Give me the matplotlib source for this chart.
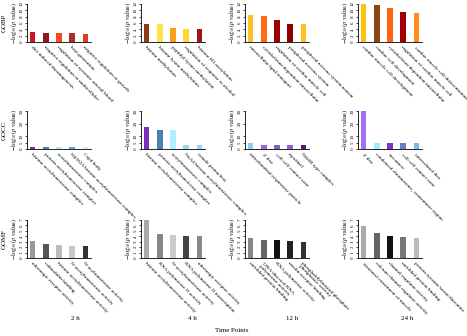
import matplotlib
matplotlib.use("Agg")
import matplotlib.pyplot as plt

plt.rcParams["font.family"] = ["Liberation Serif", "DejaVu Serif"]
plt.rcParams["mathtext.fontset"] = "stix"

TIMES = ["2 h", "4 h", "12 h", "24 h"]
ONTOLOGIES = ["GOBP", "GOCC", "GOMF"]

# GOBP
BP_LABELS = [
    ["diet induced thermogenesis", "negative regulation of multicellular",
     "regulation of systemic arterial blood", "heat generation",
     "negative regulation of growth"],
    ["histone methylation", "histone lysine methylation",
     "peptidyl-lysine methylation", "regulation of response to alcohol",
     "histone H3 acetylation"],
    ["intracellular lipid transport", "cytoskeleton-dependent intracellular",
     "regulation of cardiac muscle cell", "peripheral nervous system",
     "peripheral nervous system neuron"],
    ["cardiac muscle cell development", "cardiac cell development",
     "cytoskeleton-dependent intracellular", "regulation of cardiac muscle cell",
     "cardiac muscle cell differentiation"],
]
BP_VALUES = [
    [3.2, 2.8, 2.8, 2.8, 2.6],
    [5.7, 5.6, 4.3, 4.2, 4.2],
    [8.4, 8.1, 6.8, 5.7, 5.7],
    [12.8, 11.8, 10.7, 9.4, 9.1],
]
BP_COLORS = [
    ["#c8161d", "#8b1a1a", "#f5481f", "#a3302a", "#e03a22"],
    ["#8e3b1c", "#ffe14d", "#ff9e1a", "#ffd633", "#a31515"],
    ["#ffc125", "#ff6a13", "#a00000", "#8b0000", "#ffbf26"],
    ["#ffc20e", "#8b4513", "#ff6410", "#a00000", "#ff8c1a"],
]

# GOCC
CC_LABELS = [
    ["histone acetyltransferase complex", "protein acetyltransferase complex",
     "acetyltransferase complex", "H4/H2A histone acetyltransferase complex",
     "Cajal body"],
    ["histone acetyltransferase complex", "protein acetyltransferase complex",
     "acetyltransferase complex", "NuA4 histone acetyltransferase complex",
     "female pronucleus"],
    ["mitochondrial respiratory particle", "Z disc", "cell-cell contact zone",
     "myofibril", "Ndc80 type complex"],
    ["Z disc", "condensed chromosome, centromeric region", "sarcomere",
     "cell-cell contact zone", "intercalated disc"],
]
CC_VALUES = [
    [1.5, 1.4, 1.4, 1.4, 1.3],
    [17.0, 14.7, 14.7, 3.2, 3.2],
    [5.0, 3.5, 3.2, 3.0, 3.0],
    [31.6, 4.5, 4.5, 4.5, 4.5],
]
CC_COLORS = [
    ["#6a2fb5", "#4f81bd", "#bde8f5", "#6a9fcf", "#d6f0f8"],
    ["#7b2fbe", "#4682b4", "#aeeeff", "#9bd7f0", "#a5d0f0"],
    ["#87cefa", "#9966e0", "#6b6fb5", "#9b59d9", "#4b1f6f"],
    ["#a070f0", "#9aeff5", "#7b35c8", "#6a7ac8", "#7ab8e8"],
]

# GOMF
MF_LABELS = [
    ["adrenergic receptor activity", "calmodulin binding",
     "histone acetyltransferase activity", "N-acetyltransferase activity",
     "N-acyltransferase activity"],
    ["histone acetyltransferase activity", "RNA polymerase II activity",
     "N-acetyltransferase activity", "RNA polymerase II transcription",
     "adrenergic receptor activity"],
    ["unfolded protein binding", "DNA-directed RNA\npolymerase activity",
     "RNA polymerase activity", "insulin receptor binding",
     "phosphatidylinositol phosphate\nphosphatase activity"],
    ["structural constituent of muscle", "calcium channel regulator activity",
     "channel regulator activity", "unfolded protein binding",
     "protein tyrosine/serine/threonine"],
]
MF_VALUES = [
    [3.2, 2.55, 2.35, 2.2, 2.15],
    [7.6, 4.5, 4.2, 4.1, 4.0],
    [3.7, 3.3, 3.3, 3.2, 2.9],
    [5.9, 4.6, 4.0, 3.95, 3.7],
]
MF_COLORS = [
    ["#999999", "#555555", "#bbbbbb", "#c8c8c8", "#333333"],
    ["#aaaaaa", "#888888", "#cccccc", "#444444", "#888888"],
    ["#888888", "#666666", "#111111", "#222222", "#333333"],
    ["#aaaaaa", "#666666", "#111111", "#777777", "#bbbbbb"],
]

ROWS = [
    (BP_LABELS, BP_VALUES, BP_COLORS, 12, [0, 2, 4, 6, 8, 10, 12]),
    (CC_LABELS, CC_VALUES, CC_COLORS, 30, [0, 5, 10, 20, 30]),
    (MF_LABELS, MF_VALUES, MF_COLORS, 7, [0, 1, 2, 3, 4, 5, 6, 7]),
]

W, H = 467, 336
fig = plt.figure(figsize=(W / 100, H / 100), dpi=100)

col_left = [27, 141, 245, 358]
row_top = [4, 111, 220]
ax_w, ax_h = 64, 38

for r, (labels, values, colors, ymax, ticks) in enumerate(ROWS):
    for c in range(4):
        ax = fig.add_axes([col_left[c] / W, 1 - (row_top[r] + ax_h) / H,
                           ax_w / W, ax_h / H])
        x = range(len(values[c]))
        ax.bar(x, values[c], width=0.4, color=colors[c])
        ax.set_xlim(-0.45, 4.45)
        ax.set_ylim(0, ymax)
        ax.set_yticks(ticks)
        ax.set_yticklabels([str(t) for t in ticks], rotation=90,
                           va="center", fontsize=3.6)
        ax.tick_params(axis="y", length=1.5, width=0.5, pad=0.8)
        ax.set_xticks(list(x))
        ax.set_xticklabels(labels[c], rotation=-45, ha="left", va="top",
                           rotation_mode="anchor", fontsize=3.8,
                           linespacing=0.9)
        ax.tick_params(axis="x", length=0, pad=2.5)
        for s in ["top", "right"]:
            ax.spines[s].set_visible(False)
        ax.spines["left"].set_linewidth(0.6)
        ax.spines["bottom"].set_linewidth(0.6)
        ax.set_ylabel(r"$-\log_{10}(\mathit{p}\ \mathrm{value})$",
                      fontsize=4.5, labelpad=0.5)
    fig.text(4 / W, 1 - (row_top[r] + ax_h / 2) / H, ONTOLOGIES[r],
             rotation=90, ha="center", va="center", fontsize=5)

time_x = [75, 192, 292, 407]
for t, tx in zip(TIMES, time_x):
    fig.text(tx / W, 1 - 318 / H, t, ha="center", va="center", fontsize=5)
fig.text(232 / W, 1 - 330 / H, "Time Points", ha="center", va="center",
         fontsize=5)

fig.savefig("out.png", dpi=100)
